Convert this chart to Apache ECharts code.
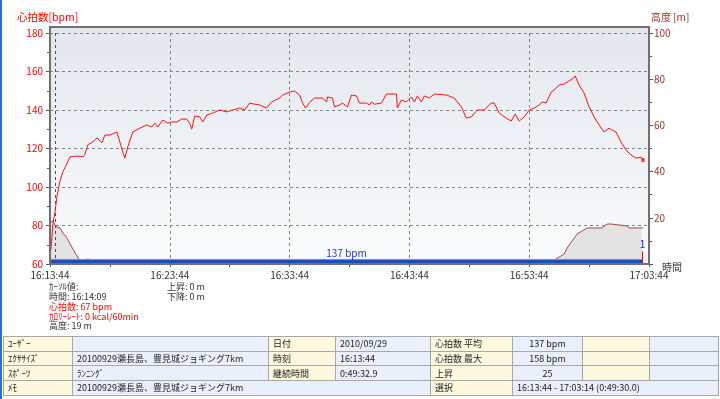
<!DOCTYPE html>
<html><head><meta charset="utf-8">
<script src="https://cdn.jsdelivr.net/npm/echarts/dist/echarts.min.js"></script>
<style>
html,body{margin:0;padding:0;background:#fff;}
#wrap{position:relative;width:720px;height:399px;overflow:hidden;background:#fff;}
#chart{position:absolute;left:0;top:0;width:720px;height:399px;}
#edge{position:absolute;left:0;top:0;width:2px;height:399px;background:#2b6fd6;}
table{position:absolute;left:3px;top:336px;width:715px;border-collapse:collapse;table-layout:fixed;font-family:"Noto Sans CJK JP";font-size:9px;color:#222;}
td{border:1px solid #a8a8a8;height:13.7px;padding:0 0 0 4px;white-space:nowrap;overflow:hidden;line-height:13px;}
td.l{background:#fdf9de;}
td.v{background:#e9f0fb;}
td.c{text-align:center;padding:0;}
</style></head>
<body>
<div id="wrap">
<div id="chart"></div>
<div id="edge"></div>
<table>
<colgroup><col style="width:69px"><col style="width:196px"><col style="width:67px"><col style="width:95px"><col style="width:82px"><col style="width:70px"><col style="width:67px"><col style="width:69px"></colgroup>
<tr><td class="l">ﾕｰｻﾞｰ</td><td class="v"></td><td class="l">日付</td><td class="v">2010/09/29</td><td class="l">心拍数 平均</td><td class="v c">137 bpm</td><td class="l"></td><td class="v"></td></tr>
<tr><td class="l">ｴｸｻｻｲｽﾞ</td><td class="v">20100929瀬長島、豊見城ジョギング7km</td><td class="l">時刻</td><td class="v">16:13:44</td><td class="l">心拍数 最大</td><td class="v c">158 bpm</td><td class="l"></td><td class="v"></td></tr>
<tr><td class="l">ｽﾎﾟｰﾂ</td><td class="v">ﾗﾝﾆﾝｸﾞ</td><td class="l">継続時間</td><td class="v">0:49:32.9</td><td class="l">上昇</td><td class="v c">25</td><td class="l"></td><td class="v"></td></tr>
<tr><td class="l">ﾒﾓ</td><td class="v" colspan="3">20100929瀬長島、豊見城ジョギング7km</td><td class="l">選択</td><td class="v" colspan="3">16:13:44 - 17:03:14 (0:49:30.0)</td></tr>
</table>
</div>
<script>
// seconds since 16:13:44
const START_SEC = 16*3600 + 13*60 + 44;
const X_TICK_SECONDS = [0, 600, 1200, 1800, 2400, 3000];
const HR_TICKS = [60, 80, 100, 120, 140, 160, 180];
const ALT_TICKS = [0, 20, 40, 60, 80, 100];

const hrSec = [0,5,15,25,35,50,65,80,100,125,150,165,175,190,215,235,260,275,300,335,350,365,375,390,415,450,485,510,525,540,565,590,610,635,660,685,700,710,725,750,765,785,815,850,885,915,950,975,1000,1025,1050,1085,1110,1150,1165,1200,1225,1250,1265,1280,1300,1325,1365,1385,1390,1415,1425,1450,1465,1490,1510,1535,1550,1585,1600,1610,1625,1660,1685,1735,1740,1760,1785,1810,1825,1840,1860,1875,1900,1925,1985,2025,2040,2060,2085,2110,2140,2175,2210,2225,2250,2285,2310,2330,2350,2375,2400,2425,2450,2465,2485,2510,2525,2550,2575,2590,2615,2630,2650,2675,2700,2725,2750,2775,2800,2815,2835,2860,2885,2910,2935,2960,2970];
const hrBpm = [66,68,81,87,95,103,108,111,115.7,116,116,115.6,117,122,123.4,125.5,123,127,127,128.6,123.4,118,115,121,128.6,130.6,132.2,131.2,133.2,131.2,134.8,133.2,133.8,133.8,135.3,135.3,133,130.1,136.9,136.4,133.8,137.4,138.4,140,139,140,141,140,143.6,143,142.6,141,144.2,146.2,147.8,149.3,149.9,147.8,143.6,141,144,146.2,146.2,144.2,146.8,146.2,141.6,142.6,143.6,141.6,147.8,147.3,143.6,143.6,142.6,144.2,143,143.6,148.3,148.3,141,145.2,144.2,146.8,144.2,147.3,144.2,147.3,146.2,148.3,147.8,146.2,144.2,141.6,135.8,136.4,140,140,143.6,143.6,138.4,135.8,134.3,137.9,134.3,136.4,140,141,142.6,144.2,143.6,149.3,150.4,153,153.5,154.5,156.1,157.7,153,148.8,141.6,136.4,132.2,128.6,130.6,129.6,128.6,123.4,119.2,116.6,115,115.5,114];

const altSec = [0,15,25,30,50,65,85,100,115,135,150,175,190,210,250,600,1000,1400,1800,2200,2450,2520,2550,2575,2590,2615,2640,2665,2690,2740,2765,2790,2810,2815,2890,2900,2960,2970];
const altM   = [18.5,18.5,18,16,15.6,13.4,11.3,8.7,6.5,3.5,1.3,1.7,2.2,1.3,0.8,0.8,0.8,0.8,0.8,0.8,0.8,1.3,3.0,4.3,6.9,10,13,14.3,15.6,15.6,15.6,17.3,17.3,16.5,16.5,15.6,15.6,15.6];

const CURSOR_SEC = 25;
const AVG_BPM_LABEL = '137 bpm';
const LAP_END_SEC = 2967;
const BAND_END_SEC = 2970;
const BAND_TOP_BPM = 62.4;
const LAP_MARK_TOP_BPM = 66.5;

function fmt(v){
  const s = START_SEC + v;
  const h = Math.floor(s/3600), m = Math.floor((s%3600)/60), ss = s%60;
  return h + ':' + String(m).padStart(2,'0') + ':' + String(ss).padStart(2,'0');
}

const hrData = hrSec.map((t,i)=>[t, hrBpm[i]]);
const altData = altSec.map((t,i)=>[t, altM[i]]);
const bandData = [[0, BAND_TOP_BPM], [BAND_END_SEC, BAND_TOP_BPM]];
const FONT = '"Noto Sans CJK JP", "Noto Sans", sans-serif';
const dash = {color:'#858585', width:1, type:[3,3]};

const chart = echarts.init(document.getElementById('chart'), null, {renderer:'canvas'});
const L = 50, T = 33, W = 599, H = 231;
chart.setOption({
  animation:false,
  backgroundColor:'transparent',
  textStyle:{fontFamily:FONT},
  grid:{left:L, top:T, width:W, height:H, containLabel:false, outerBoundsMode:'none'},
  xAxis:{
    type:'value', min:X_TICK_SECONDS[0], max:X_TICK_SECONDS[X_TICK_SECONDS.length-1], interval:600,
    axisLine:{show:false},
    axisTick:{show:true, length:3, lineStyle:{color:'#555'}},
    minorTick:{show:true, splitNumber:2, length:3, lineStyle:{color:'#555'}},
    axisLabel:{formatter:fmt, color:'#333', fontSize:10, margin:6, fontFamily:FONT, showMinLabel:true, showMaxLabel:true},
    splitLine:{show:true, lineStyle:dash}
  },
  yAxis:[{
    type:'value', min:HR_TICKS[0], max:HR_TICKS[HR_TICKS.length-1], interval:20, position:'left',
    axisLine:{show:false},
    axisTick:{show:true, length:4, lineStyle:{color:'#555'}},
    minorTick:{show:true, splitNumber:2, length:3, lineStyle:{color:'#555'}},
    axisLabel:{color:'#ff0000', fontSize:10, margin:7, fontFamily:FONT},
    splitLine:{show:true, lineStyle:dash}
  },{
    type:'value', min:ALT_TICKS[0], max:ALT_TICKS[ALT_TICKS.length-1], interval:20, position:'right',
    axisLine:{show:false},
    axisTick:{show:true, length:4, lineStyle:{color:'#555'}},
    minorTick:{show:true, splitNumber:2, length:3, lineStyle:{color:'#555'}},
    axisLabel:{color:'#a0302a', fontSize:10, margin:5, fontFamily:FONT, showMinLabel:false},
    splitLine:{show:false}
  }],
  series:[{
    name:'高度', type:'line', yAxisIndex:1, data:altData, showSymbol:false, z:2,
    lineStyle:{color:'#a54848', width:1}, areaStyle:{color:'#e3e3e3', opacity:1}
  },{
    name:'band', type:'line', yAxisIndex:0, data:bandData, z:3, silent:true, showSymbol:false,
    lineStyle:{color:'#6f93dd', width:1},
    areaStyle:{color:'#1f4dbf', opacity:1, origin:'start'},
    markPoint:{silent:true, symbol:'circle', symbolSize:1, itemStyle:{color:'rgba(0,0,0,0)'},
      label:{show:true, position:'top', distance:1, formatter:AVG_BPM_LABEL, color:'#2233dd', fontSize:10, fontFamily:FONT},
      data:[{coord:[BAND_END_SEC/2, BAND_TOP_BPM]}]
    },
    markLine:{silent:true, symbol:'none',
      lineStyle:{color:'#ff0000', width:1, type:'solid'},
      label:{show:true, position:'end', formatter:'1', color:'#1a1aff', fontSize:10, distance:2, fontFamily:FONT},
      data:[[{coord:[LAP_END_SEC, HR_TICKS[0]]},{coord:[LAP_END_SEC, LAP_MARK_TOP_BPM]}]]
    }
  },{
    name:'心拍数', type:'line', yAxisIndex:0, data:hrData, showSymbol:false, z:4,
    lineStyle:{color:'#ff1010', width:1},
    markLine:{silent:true, symbol:'none', label:{show:false},
      lineStyle:{color:'#505050', width:1, type:[3,3]},
      data:[{xAxis:CURSOR_SEC}]
    }
  },{
    name:'end', type:'scatter', yAxisIndex:0, z:5, symbol:'rect', symbolSize:[3,4],
    itemStyle:{color:'#ff0000'},
    data:[hrData[hrData.length-1]]
  }],
  graphic:[
    {type:'rect', z:-10, shape:{x:L, y:27, width:W, height:T+H-27},
      style:{fill:new echarts.graphic.LinearGradient(0,0,0,1,[{offset:0,color:'#e3e7ed'},{offset:1,color:'#fafbfc'}])}},
    {type:'rect', z:10, shape:{x:L, y:27, width:W, height:T+H-27},
      style:{fill:'none', stroke:'#707070', lineWidth:2}},
    {type:'text', z:10, x:17, y:17, style:{text:'心拍数[bpm]', fill:'#ff0000', font:'10.5px '+FONT, textVerticalAlign:'middle'}},
    {type:'text', z:10, x:651, y:17, style:{text:'高度 [m]', fill:'#a0302a', font:'10px '+FONT, textVerticalAlign:'middle'}},
    {type:'text', z:10, x:662, y:267, style:{text:'時間', fill:'#333', font:'10px '+FONT, textVerticalAlign:'middle'}},
    {type:'text', z:10, x:49, y:287, style:{text:'ｶｰｿﾙ値:', fill:'#333', font:'9px '+FONT, textVerticalAlign:'middle'}},
    {type:'text', z:10, x:49, y:297, style:{text:'時間: 16:14:09', fill:'#333', font:'9px '+FONT, textVerticalAlign:'middle'}},
    {type:'text', z:10, x:49, y:307, style:{text:'心拍数: 67 bpm', fill:'#ff0000', font:'9px '+FONT, textVerticalAlign:'middle'}},
    {type:'text', z:10, x:49, y:317, style:{text:'ｶﾛﾘｰﾚｰﾄ: 0 kcal/60min', fill:'#ff0000', font:'9px '+FONT, textVerticalAlign:'middle'}},
    {type:'text', z:10, x:49, y:326, style:{text:'高度: 19 m', fill:'#333', font:'9px '+FONT, textVerticalAlign:'middle'}},
    {type:'text', z:10, x:167, y:287, style:{text:'上昇: 0 m', fill:'#333', font:'9px '+FONT, textVerticalAlign:'middle'}},
    {type:'text', z:10, x:167, y:297, style:{text:'下降: 0 m', fill:'#333', font:'9px '+FONT, textVerticalAlign:'middle'}}
  ]
});
</script>
</body></html>
